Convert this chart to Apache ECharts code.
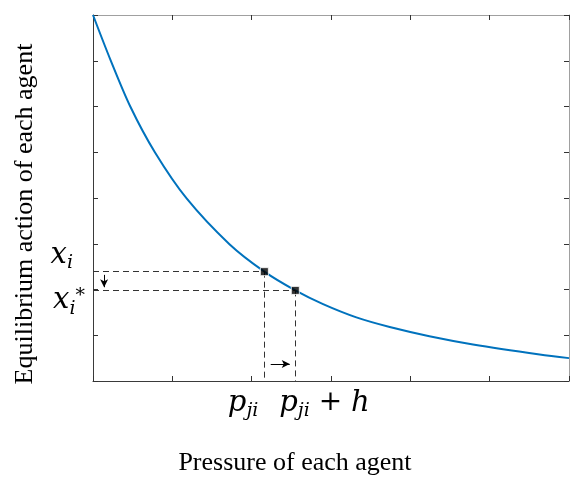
<!DOCTYPE html>
<html>
<head>
<meta charset="utf-8">
<script src="https://cdn.jsdelivr.net/npm/echarts@6/dist/echarts.min.js"></script>
<style>
html, body { margin: 0; padding: 0; background: #fff; }
#chart { width: 574px; height: 484px; }
</style>
</head>
<body>
<div id="chart"></div>
<script>
// curve (pressure -> equilibrium action)
var curveX = [0, 0.22, 0.47, 0.78, 1.18, 1.72, 2.16, 2.55, 2.90, 3.32, 3.74, 4.24, 4.79, 5.63, 6.0];
var curveY = [8.0, 7.02, 6.0, 5.0, 3.99, 2.99, 2.39, 1.98, 1.68, 1.39, 1.18, 0.98, 0.80, 0.58, 0.50];
// the two marked points: (p_ji, x_i) and (p_ji + h, x_i*)
var markX = [2.16, 2.55];
var markY = [2.39, 1.98];
// small arrows: [x0, y0, x1, y1]
var arrowDown = [0.14, 2.32, 0.14, 2.05];
var arrowRight = [2.24, 0.37, 2.48, 0.37];

var xTitle = 'Pressure of each agent';
var yTitle = 'Equilibrium action of each agent';

var myChart = echarts.init(document.getElementById('chart'));

var curve = [];
for (var i = 0; i < curveX.length; i++) {
    curve.push([curveX[i], curveY[i]]);
}
var points = [];
var guides = [];
for (var k = 0; k < markX.length; k++) {
    points.push([markX[k], markY[k]]);
    guides.push([{ coord: [0, markY[k]] }, { coord: [markX[k], markY[k]] }]);
    guides.push([{ coord: [markX[k], markY[k]] }, { coord: [markX[k], 0] }]);
}

var darkAxis = '#3a3a3a';
var lightAxis = '#a0a0a0';

function frameAxis(pos, max, color) {
    return {
        type: 'value',
        position: pos,
        min: 0,
        max: max,
        interval: 1,
        axisLine: { show: true, onZero: false, lineStyle: { color: color, width: 1 } },
        axisTick: { show: true, inside: true, length: 5, lineStyle: { color: '#333', width: 1 } },
        axisLabel: { show: false },
        splitLine: { show: false }
    };
}

option = {
    backgroundColor: '#fff',
    animation: false,
    grid: { left: 93, right: 5, top: 15, bottom: 103 },
    xAxis: [frameAxis('bottom', 6, darkAxis), frameAxis('top', 6, lightAxis)],
    yAxis: [frameAxis('left', 8, darkAxis), frameAxis('right', 8, lightAxis)],
    series: [{
        type: 'line',
        data: curve,
        smooth: 0.3,
        showSymbol: false,
        silent: true,
        z: 3,
        lineStyle: { color: '#0072BD', width: 2 }
    }, {
        type: 'line',
        data: [],
        silent: true,
        markLine: {
            silent: true,
            symbol: ['none', 'none'],
            label: { show: false },
            lineStyle: { color: '#333', width: 1, type: [6, 4] },
            data: guides
        }
    }, {
        type: 'line',
        data: [],
        silent: true,
        markLine: {
            silent: true,
            symbol: ['none', 'arrow'],
            symbolSize: [6, 8],
            label: { show: false },
            lineStyle: { color: '#000', width: 1, type: 'solid' },
            data: [
                [{ coord: [arrowDown[0], arrowDown[1]] }, { coord: [arrowDown[2], arrowDown[3]] }],
                [{ coord: [arrowRight[0], arrowRight[1]] }, { coord: [arrowRight[2], arrowRight[3]] }]
            ]
        }
    }, {
        type: 'scatter',
        data: points,
        symbol: 'rect',
        symbolSize: 8,
        silent: true,
        z: 5,
        itemStyle: { color: '#000', borderColor: '#fff', borderWidth: 1 }
    }]
};
myChart.setOption(option);

// math labels, placed from the marked points
var rich = {
    m: { fontFamily: 'DejaVu Serif', fontStyle: 'italic', fontSize: 29, color: '#000', verticalAlign: 'top', lineHeight: 32 },
    s: { fontFamily: 'DejaVu Serif', fontStyle: 'italic', fontSize: 19, color: '#000', verticalAlign: 'bottom', lineHeight: 22, padding: [16, 0, 0, 0] },
    u: { fontFamily: 'DejaVu Serif', fontSize: 19, color: '#000', verticalAlign: 'top', lineHeight: 22 },
    n: { fontFamily: 'DejaVu Serif', fontSize: 28, color: '#000', verticalAlign: 'top', lineHeight: 32 }
};
var p1 = myChart.convertToPixel({ gridIndex: 0 }, points[0]);
var p2 = myChart.convertToPixel({ gridIndex: 0 }, points[1]);
var origin = myChart.convertToPixel({ gridIndex: 0 }, [0, 0]);
var corner = myChart.convertToPixel({ gridIndex: 0 }, [6, 8]);

function label(x, y, align, text) {
    return {
        type: 'text',
        x: x,
        y: y,
        silent: true,
        style: { text: text, rich: rich, align: align, verticalAlign: 'middle' }
    };
}
var titleFont = { fontFamily: 'Liberation Serif', fontSize: 26, fill: '#000' };

myChart.setOption({
    graphic: [
        label(origin[0] - 20, p1[1] - 15, 'right', '{m|x}{s|i}'),
        label(origin[0] - 8, p2[1] + 12, 'right', '{m|x}{s|i}{u|*}'),
        label(p1[0] - 6, origin[1] + 24, 'right', '{m|p}{s|ji}'),
        label(p2[0] - 16, origin[1] + 24, 'left', '{m|p}{s|ji}{n| + }{m|h}'),
        {
            type: 'text', silent: true,
            x: origin[0] + 202, y: origin[1] + 82,
            style: echarts.util.extend({ text: xTitle, align: 'center', verticalAlign: 'middle' }, titleFont)
        },
        {
            type: 'text', silent: true,
            x: origin[0] - 68, y: (origin[1] + corner[1]) / 2 + 16,
            rotation: Math.PI / 2,
            style: echarts.util.extend({ text: yTitle, align: 'center', verticalAlign: 'middle' }, titleFont)
        }
    ]
});
</script>
</body>
</html>
